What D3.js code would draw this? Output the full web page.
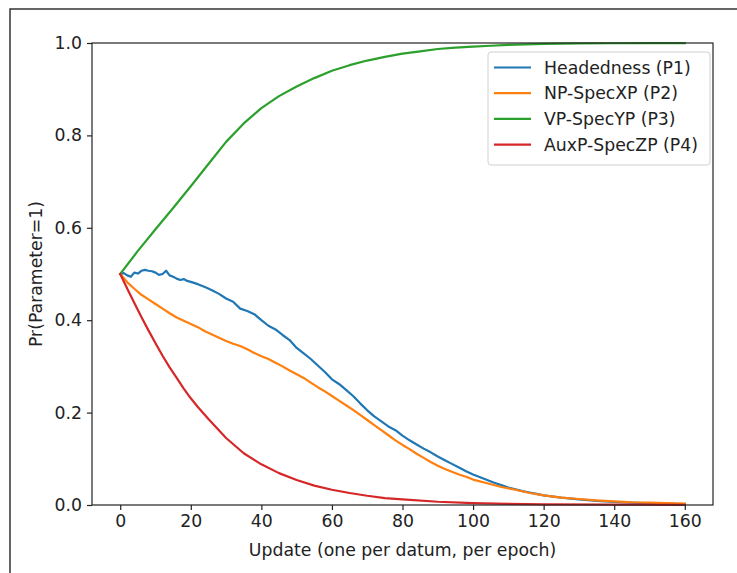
<!DOCTYPE html>
<html>
<head>
<meta charset="utf-8">
<script src="https://cdn.jsdelivr.net/npm/d3@7"></script>
<style>
  body { margin: 0; background: #fff; }
  svg { display: block; font-family: "DejaVu Sans", sans-serif; }
</style>
</head>
<body>
<svg id="chart" width="737" height="573"></svg>
<script>
// data: [update, Pr(Parameter=1)]
var headedness = [
  [0,0.500],[1,0.502],[2,0.497],[3,0.494],[4,0.503],[5,0.501],[6,0.507],[7,0.509],
  [8,0.507],[9,0.506],[10,0.503],[11,0.498],[12,0.500],[13,0.507],[14,0.497],[15,0.494],
  [16,0.490],[17,0.487],[18,0.489],[19,0.485],[20,0.483],[22,0.478],[24,0.472],[26,0.465],
  [28,0.457],[30,0.447],[32,0.440],[34,0.425],[36,0.420],[38,0.413],[40,0.400],[42,0.388],
  [44,0.380],[46,0.368],[48,0.357],[50,0.340],[52,0.328],[54,0.316],[56,0.302],[58,0.288],
  [60,0.272],[62,0.262],[64,0.249],[66,0.236],[68,0.220],[70,0.205],[72,0.192],[74,0.181],
  [76,0.170],[78,0.162],[80,0.150],[82,0.140],[84,0.131],[86,0.122],[88,0.114],[90,0.105],
  [92,0.097],[94,0.089],[96,0.081],[98,0.073],[100,0.066],[102,0.060],[104,0.054],[106,0.048],
  [108,0.043],[110,0.038],[112,0.034],[114,0.030],[116,0.027],[118,0.024],[120,0.021],
  [125,0.016],[130,0.012],[135,0.009],[140,0.0065],[145,0.005],[150,0.0035],[155,0.0025],[160,0.002]
];
var npSpec = [
  [0,0.500],[2,0.482],[4,0.468],[6,0.455],[8,0.445],[10,0.435],[12,0.425],[14,0.415],
  [16,0.406],[18,0.399],[20,0.392],[22,0.385],[24,0.376],[26,0.369],[28,0.362],[30,0.355],
  [32,0.349],[34,0.344],[36,0.337],[38,0.329],[40,0.322],[42,0.316],[44,0.308],[46,0.300],
  [48,0.291],[50,0.283],[52,0.275],[54,0.265],[56,0.255],[58,0.246],[60,0.236],[62,0.226],
  [64,0.216],[66,0.206],[68,0.195],[70,0.184],[72,0.173],[74,0.162],[76,0.151],[78,0.140],
  [80,0.130],[82,0.121],[84,0.111],[86,0.102],[88,0.093],[90,0.085],[92,0.078],[94,0.072],
  [96,0.066],[98,0.061],[100,0.055],[104,0.047],[108,0.039],[112,0.033],[116,0.026],
  [120,0.021],[125,0.016],[130,0.013],[135,0.010],[140,0.008],[145,0.006],[150,0.005],
  [155,0.004],[160,0.003]
];
var vpSpec = [
  [0,0.500],[5,0.550],[10,0.597],[15,0.643],[20,0.690],[25,0.738],[30,0.786],[35,0.826],
  [40,0.859],[45,0.885],[50,0.906],[55,0.924],[60,0.940],[65,0.952],[70,0.962],[75,0.970],
  [80,0.977],[85,0.982],[90,0.987],[95,0.990],[100,0.992],[105,0.994],[110,0.996],
  [115,0.997],[120,0.998],[130,0.999],[140,0.9995],[150,0.9997],[160,0.9998]
];
var auxpSpec = [
  [0,0.500],[2,0.468],[4,0.437],[6,0.407],[8,0.378],[10,0.350],[12,0.323],[14,0.298],
  [16,0.275],[18,0.252],[20,0.231],[22,0.212],[25,0.186],[30,0.145],[35,0.112],[40,0.088],
  [45,0.069],[50,0.054],[55,0.042],[60,0.033],[65,0.026],[70,0.020],[75,0.015],[80,0.012],
  [90,0.007],[100,0.004],[110,0.0025],[120,0.0015],[140,0.0006],[160,0.0003]
];

var seriesNames  = ['Headedness (P1)', 'NP-SpecXP (P2)', 'VP-SpecYP (P3)', 'AuxP-SpecZP (P4)'];
var seriesColors = ['#1f77b4', '#ff7f0e', '#2ca02c', '#d62728'];
var seriesData   = [headedness, npSpec, vpSpec, auxpSpec];

var xTicks = [0, 20, 40, 60, 80, 100, 120, 140, 160];
var yTicks = [0.0, 0.2, 0.4, 0.6, 0.8, 1.0];

var fontSize = '17.3px';

// SETUP
var svg = d3.select('#chart');
var margin = { left: 92, top: 43, right: 713, bottom: 505 };

var x = d3.scaleLinear().domain([-8, 168]).range([margin.left, margin.right]);
var y = d3.scaleLinear().domain([0, 1]).range([margin.bottom, margin.top]);

// frame around the figure (screenshot edge)
svg.append('path')
  .attr('d', 'M10,573.5 L10,9 L737,9')
  .attr('fill', 'none')
  .attr('stroke', '#333')
  .attr('stroke-width', 1.5);

/**
 * Lines
 */
var line = d3.line()
  .x(function (d) { return x(d[0]); })
  .y(function (d) { return y(d[1]); });

var plot = svg.append('g').attr('class', 'lines');
seriesData.forEach(function (data, i) {
  plot.append('path')
    .datum(data)
    .attr('d', line)
    .attr('fill', 'none')
    .attr('stroke', seriesColors[i])
    .attr('stroke-width', 2.2)
    .attr('stroke-linejoin', 'round')
    .attr('stroke-linecap', 'square');
});

/**
 * Axes
 */
var xAxis = svg.append('g')
  .attr('transform', 'translate(0,' + margin.bottom + ')')
  .call(d3.axisBottom(x).tickValues(xTicks).tickSize(5).tickPadding(5)
    .tickFormat(d3.format('d')));

var yAxis = svg.append('g')
  .attr('transform', 'translate(' + margin.left + ',0)')
  .call(d3.axisLeft(y).tickValues(yTicks).tickSize(5).tickPadding(5)
    .tickFormat(d3.format('.1f')));

[xAxis, yAxis].forEach(function (ax) {
  ax.select('.domain').remove();
  ax.selectAll('.tick line').attr('stroke', '#222').attr('stroke-width', 1.2);
  ax.selectAll('.tick text')
    .attr('fill', '#222')
    .style('font-size', fontSize)
    .style('font-family', '"DejaVu Sans", sans-serif');
});

// spines
svg.append('rect')
  .attr('x', margin.left)
  .attr('y', margin.top)
  .attr('width', margin.right - margin.left)
  .attr('height', margin.bottom - margin.top)
  .attr('fill', 'none')
  .attr('stroke', '#222')
  .attr('stroke-width', 1.2);

// axis labels
svg.append('text')
  .attr('x', (margin.left + margin.right) / 2)
  .attr('y', 556)
  .attr('text-anchor', 'middle')
  .attr('fill', '#222')
  .style('font-size', fontSize)
  .text('Update (one per datum, per epoch)');

svg.append('text')
  .attr('transform', 'translate(42,' + ((margin.top + margin.bottom) / 2) + ') rotate(-90)')
  .attr('text-anchor', 'middle')
  .attr('fill', '#222')
  .style('font-size', fontSize)
  .text('Pr(Parameter=1)');

/**
 * Legend
 */
var legend = svg.append('g').attr('transform', 'translate(488,52)');
legend.append('rect')
  .attr('width', 222)
  .attr('height', 113)
  .attr('rx', 3)
  .attr('fill', '#fff')
  .attr('fill-opacity', 0.8)
  .attr('stroke', '#d0d0d0')
  .attr('stroke-width', 1);

var rows = legend.selectAll('g.row')
  .data(seriesNames)
  .enter()
  .append('g')
  .attr('class', 'row')
  .attr('transform', function (d, i) { return 'translate(0,' + (15.5 + i * 25.7) + ')'; });

rows.append('line')
  .attr('x1', 6).attr('x2', 43)
  .attr('stroke', function (d, i) { return seriesColors[i]; })
  .attr('stroke-width', 2.2);

rows.append('text')
  .attr('x', 56)
  .attr('dy', '0.35em')
  .attr('fill', '#222')
  .style('font-size', fontSize)
  .text(function (d) { return d; });
</script>
</body>
</html>
